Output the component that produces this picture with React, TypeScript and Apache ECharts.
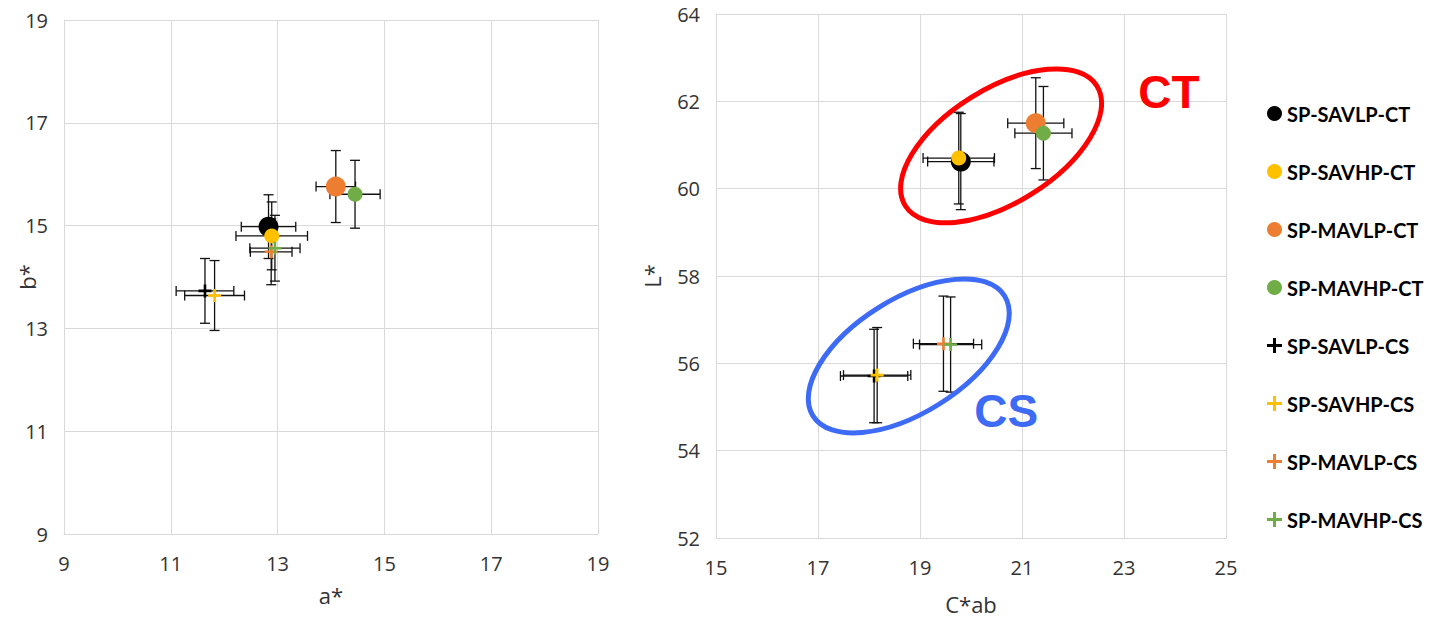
import React, { useEffect, useRef } from "react";
import * as echarts from "echarts";

// Sample groups (CT = circles, CS = crosses)
const seriesNames = [
  "SP-SAVLP-CT",
  "SP-SAVHP-CT",
  "SP-MAVLP-CT",
  "SP-MAVHP-CT",
  "SP-SAVLP-CS",
  "SP-SAVHP-CS",
  "SP-MAVLP-CS",
  "SP-MAVHP-CS",
];
const seriesColors = ["#000000", "#FFC000", "#ED7D31", "#70AD47", "#000000", "#FFC000", "#ED7D31", "#70AD47"];
const isCross = [false, false, false, false, true, true, true, true];
const markerSizes = [20, 15, 20, 15, 13, 13, 13, 13];

// a* / b* chromaticity (mean and standard deviation)
const aStar = [12.83, 12.89, 14.09, 14.45, 11.64, 11.82, 12.88, 12.95];
const aStarErr = [0.51, 0.67, 0.37, 0.47, 0.54, 0.56, 0.39, 0.47];
const bStar = [14.98, 14.8, 15.76, 15.61, 13.73, 13.64, 14.49, 14.56];
const bStarErr = [0.62, 0.66, 0.7, 0.66, 0.63, 0.68, 0.64, 0.64];

// C*ab / L* (mean and standard deviation)
const cStar = [19.8, 19.76, 21.27, 21.42, 18.1, 18.16, 19.46, 19.6];
const cStarErr = [0.65, 0.7, 0.55, 0.56, 0.66, 0.66, 0.59, 0.61];
const lStar = [60.62, 60.7, 61.5, 61.27, 55.71, 55.73, 56.45, 56.43];
const lStarErr = [1.1, 1.05, 1.04, 1.07, 1.07, 1.09, 1.09, 1.09];

// Axis ranges
const abRange = { min: 9, max: 19, step: 2 };
const cRange = { min: 15, max: 25, step: 2 };
const lRange = { min: 52, max: 64, step: 2 };

// Group annotations in C*ab / L* units
const groupLabels = [
  { text: "CT", color: "#FF0000", center: [20.59, 60.98], label: [23.88, 62.22] },
  { text: "CS", color: "#3D6BF5", center: [18.78, 56.17], label: [20.69, 54.9] },
];

const CROSS = "path://M4,0 H6 V4 H10 V6 H6 V10 H4 V6 H0 V4 H4 Z";
const GRID_COLOR = "#D9D9D9";
const LABEL_COLOR = "#333333";
const FONT = "'Open Sans', sans-serif";

function errorBarRender(params: any, api: any) {
  const x = api.value(0);
  const y = api.value(1);
  const ex = api.value(2);
  const ey = api.value(3);
  const c = api.coord([x, y]);
  const l = api.coord([x - ex, y]);
  const r = api.coord([x + ex, y]);
  const t = api.coord([x, y + ey]);
  const b = api.coord([x, y - ey]);
  const cap = 5;
  const style = { stroke: "#111111", lineWidth: 1.3 };
  const ln = (x1: number, y1: number, x2: number, y2: number) => ({
    type: "line",
    shape: { x1, y1, x2, y2 },
    style,
  });
  return {
    type: "group",
    children: [
      ln(l[0], c[1], r[0], c[1]),
      ln(l[0], c[1] - cap, l[0], c[1] + cap),
      ln(r[0], c[1] - cap, r[0], c[1] + cap),
      ln(c[0], t[1], c[0], b[1]),
      ln(c[0] - cap, t[1], c[0] + cap, t[1]),
      ln(c[0] - cap, b[1], c[0] + cap, b[1]),
    ],
  };
}

function valueAxis(gridIndex: number, range: any, name: string, nameGap: number, isX: boolean) {
  return {
    type: "value",
    gridIndex,
    min: range.min,
    max: range.max,
    interval: range.step,
    name,
    nameLocation: "middle",
    nameGap,
    nameMoveOverlap: isX,
    nameTextStyle: { color: LABEL_COLOR, fontSize: 22, fontFamily: FONT },
    axisLine: { show: true, lineStyle: { color: GRID_COLOR, width: 1 } },
    axisTick: { show: false },
    axisLabel: { color: LABEL_COLOR, fontSize: 20, fontFamily: FONT, margin: isX ? 19 : 16 },
    splitLine: { show: true, lineStyle: { color: GRID_COLOR, width: 1 } },
  };
}

export default function App() {
  const ref = useRef<HTMLDivElement>(null);

  useEffect(() => {
    if (!ref.current) return;
    const chart = echarts.init(ref.current, undefined, { renderer: "svg" });

    const series: any[] = [];
    const panels = [
      { grid: 0, xs: aStar, xe: aStarErr, ys: bStar, ye: bStarErr },
      { grid: 1, xs: cStar, xe: cStarErr, ys: lStar, ye: lStarErr },
    ];
    panels.forEach((p) => {
      seriesNames.forEach((name, i) => {
        series.push({
          type: "custom",
          name: name + " err",
          xAxisIndex: p.grid,
          yAxisIndex: p.grid,
          z: 1,
          renderItem: errorBarRender,
          encode: { x: 0, y: 1 },
          data: [[p.xs[i], p.ys[i], p.xe[i], p.ye[i]]],
        });
      });
    });
    panels.forEach((p) => {
      seriesNames.forEach((name, i) => {
        series.push({
          type: "scatter",
          name,
          xAxisIndex: p.grid,
          yAxisIndex: p.grid,
          z: 3,
          symbol: isCross[i] ? CROSS : "circle",
          symbolSize: markerSizes[i],
          itemStyle: { color: seriesColors[i], opacity: 1 },
          data: [[p.xs[i], p.ys[i]]],
        });
      });
    });

    chart.setOption({
      animation: false,
      backgroundColor: "#ffffff",
      grid: [
        { left: 64, right: 831, top: 20, bottom: 86 },
        { left: 716, right: 203, top: 14, bottom: 81 },
      ],
      xAxis: [valueAxis(0, abRange, "a*", 50, true), valueAxis(1, cRange, "C*ab", 55, true)],
      yAxis: [valueAxis(0, abRange, "b*", 26, false), valueAxis(1, lRange, "L*", 53, false)],
      legend: {
        orient: "vertical",
        left: 1262,
        top: 97,
        itemWidth: 15,
        itemHeight: 15,
        itemGap: 35,
        data: seriesNames.map((n) => ({ name: n })),
        textStyle: { color: "#000000", fontSize: 20, fontWeight: "bold", fontFamily: "Lato, sans-serif", lineHeight: 23 },
        selectedMode: false,
      },
      series,
    });

    const graphics: any[] = [];
    groupLabels.forEach((g) => {
      const c = chart.convertToPixel({ gridIndex: 1 } as any, g.center) as number[];
      const t = chart.convertToPixel({ gridIndex: 1 } as any, g.label) as number[];
      graphics.push({
        type: "ellipse",
        x: c[0],
        y: c[1],
        rotation: (32 * Math.PI) / 180,
        shape: { cx: 0, cy: 0, rx: 113, ry: 57 },
        style: { fill: "none", stroke: g.color, lineWidth: 5 },
        z: 10,
      });
      graphics.push({
        type: "text",
        x: t[0],
        y: t[1],
        style: {
          text: g.text,
          fill: g.color,
          font: "bold 46px 'Liberation Sans', Arial, sans-serif",
          textAlign: "center",
          textVerticalAlign: "middle",
        },
        z: 10,
      });
    });
    chart.setOption({ graphic: graphics });

    return () => chart.dispose();
  }, []);

  return (
    <div
      ref={ref}
      style={{ position: "fixed", left: 0, top: 0, width: 1429, height: 620, background: "#fff" }}
    />
  );
}
